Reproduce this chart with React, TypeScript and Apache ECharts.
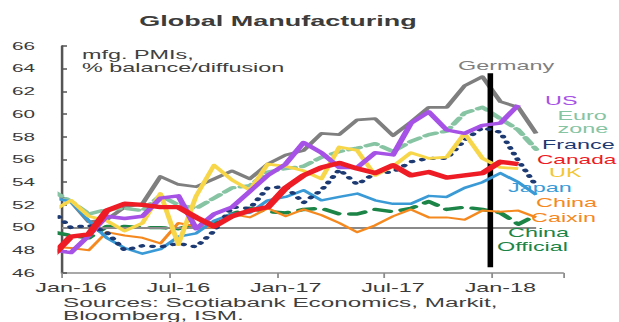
import React, { useEffect, useRef } from "react";
import * as echarts from "echarts";

// Category (month) labels of the x axis
const months = [
  "Jan-16", "Feb-16", "Mar-16", "Apr-16", "May-16", "Jun-16", "Jul-16", "Aug-16", "Sep-16", "Oct-16", "Nov-16", "Dec-16",
  "Jan-17", "Feb-17", "Mar-17", "Apr-17", "May-17", "Jun-17", "Jul-17", "Aug-17", "Sep-17", "Oct-17", "Nov-17", "Dec-17",
  "Jan-18", "Feb-18", "Mar-18", "Apr-18",
];

// All series start at Dec-15 (clipped at the left edge of the plot)
const germany = [53.0, 52.3, 50.5, 50.7, 51.8, 52.1, 54.5, 53.8, 53.6, 54.3, 55.0, 54.3, 55.6, 56.4, 56.8, 58.3, 58.2, 59.5, 59.6, 58.1, 59.3, 60.6, 60.6, 62.5, 63.3, 61.1, 60.6, 58.3];
const euroZone = [53.2, 52.3, 51.2, 51.6, 51.7, 51.5, 52.8, 52.0, 51.7, 52.6, 53.5, 53.7, 54.9, 55.2, 55.4, 56.2, 56.7, 57.0, 57.4, 56.7, 57.6, 58.2, 58.5, 60.1, 60.6, 59.6, 58.6, 56.9];
const chinaOfficial = [49.6, 49.3, 49.1, 50.1, 50.1, 50.0, 50.0, 49.9, 50.3, 50.4, 51.2, 51.7, 51.4, 51.3, 51.6, 51.7, 51.2, 51.2, 51.6, 51.4, 51.7, 52.3, 51.6, 51.8, 51.6, 51.3, 50.3, 51.1];
const chinaCaixin = [48.3, 48.2, 48.0, 49.6, 49.3, 49.1, 48.6, 50.4, 50.1, 50.0, 51.2, 50.9, 51.7, 51.0, 51.6, 51.1, 50.4, 49.6, 50.2, 51.0, 51.6, 50.9, 50.9, 50.7, 51.5, 51.4, 51.5, 50.9];
const japan = [52.6, 52.3, 50.6, 49.1, 48.2, 47.7, 48.1, 49.2, 49.5, 50.6, 51.2, 51.3, 52.4, 52.7, 53.3, 52.4, 52.7, 53.0, 52.4, 52.1, 52.1, 52.8, 52.7, 53.5, 54.0, 54.8, 54.0, 52.9];
const france = [51.4, 50.0, 50.2, 49.6, 48.0, 48.4, 48.3, 48.6, 48.3, 49.7, 51.8, 51.7, 53.5, 53.6, 52.2, 53.3, 55.1, 53.8, 54.8, 54.9, 55.8, 56.1, 56.1, 57.7, 58.8, 58.4, 55.9, 53.7];
const uk = [51.5, 52.4, 51.0, 50.6, 49.7, 50.4, 53.0, 48.5, 52.8, 55.5, 54.2, 53.3, 55.6, 55.4, 55.0, 54.3, 57.1, 56.8, 54.6, 55.4, 56.6, 56.1, 56.2, 58.3, 56.1, 55.3, 55.2];
const us = [48.0, 47.8, 49.3, 51.0, 50.8, 51.0, 52.6, 52.8, 49.9, 51.2, 51.8, 53.2, 54.6, 55.6, 57.5, 56.6, 55.3, 55.3, 56.6, 56.4, 59.2, 60.2, 58.6, 58.3, 59.0, 59.2, 60.8];
const canada = [47.6, 49.2, 49.4, 51.5, 52.1, 52.0, 51.8, 51.8, 50.9, 50.1, 51.0, 51.5, 51.8, 53.5, 54.6, 55.3, 55.7, 55.2, 54.8, 55.5, 54.6, 54.9, 54.4, 54.6, 54.8, 55.8, 55.6];

const yMin = 46;
const yMax = 66;
const yStep = 2;
const refLine = 50;

const W = 344;
const H = 322;
const S = 619 / W; // horizontal stretch of the original picture
const FONT = '"Liberation Sans", Arial, Helvetica, sans-serif';

function lineSeries(name: string, vals: number[], color: string, width: number, type: any, z: number, extra: any = {}) {
  return {
    type: "line",
    name,
    xAxisIndex: 1,
    data: vals.map((v, i) => [i - 0.5, v]),
    showSymbol: false,
    symbol: "none",
    silent: true,
    clip: true,
    z,
    lineStyle: { color, width, type, cap: type === "solid" ? "butt" : "round", join: "round" },
    ...extra,
  };
}

function label(text: string, xr: number, y: number, color: string, size = 13, extra: any = {}) {
  return {
    type: "text",
    x: xr / S,
    y,
    z: 100,
    silent: true,
    style: {
      text,
      fill: color,
      fontSize: size,
      fontFamily: FONT,
      lineHeight: 12.5,
      align: "left",
      verticalAlign: "middle",
      textAlign: "left",
      textVerticalAlign: "middle",
      ...extra,
    },
  };
}

export default function App() {
  const ref = useRef<HTMLDivElement>(null);

  useEffect(() => {
    if (!ref.current) return;
    const chart = echarts.init(ref.current, undefined, { renderer: "svg" });
    const option: any = {
      animation: false,
      backgroundColor: "#ffffff",
      textStyle: { fontFamily: FONT },
      grid: { left: 62 / S, right: W - 563 / S, top: 46, bottom: H - 273, containLabel: false },
      xAxis: [
        {
          type: "category",
          data: months,
          boundaryGap: true,
          axisLine: { show: true, lineStyle: { color: "#8c8c8c", width: 1.5 } },
          axisTick: { show: true, interval: 5, length: 5, inside: false, lineStyle: { color: "#8c8c8c", width: 1 } },
          axisLabel: { interval: 5, margin: 8, fontSize: 13, color: "#3a3a3a", fontFamily: FONT },
          splitLine: { show: false },
        },
        { type: "value", min: 0, max: months.length, show: false },
      ],
      yAxis: {
        type: "value",
        min: yMin,
        max: yMax,
        interval: yStep,
        axisLine: { show: true, lineStyle: { color: "#555555", width: 1.4 } },
        axisTick: { show: true, inside: true, length: 2.8, lineStyle: { color: "#555555", width: 1.5 } },
        axisLabel: { margin: 15, fontSize: 11.5, color: "#3a3a3a", fontFamily: FONT },
        splitLine: { show: false },
      },
      series: [
        lineSeries("Germany", germany, "#7f7f7f", 2.8, "solid", 2, {
          markLine: {
            silent: true,
            symbol: ["none", "none"],
            label: { show: false },
            lineStyle: { color: "#8a8a8a", width: 2, type: "solid" },
            data: [[{ coord: [0, refLine] }, { coord: [26.5, refLine] }]],
          },
        }),
        lineSeries("Euro zone", euroZone, "#86c4a3", 3.4, [6.5, 4], 3),
        lineSeries("China Official", chinaOfficial, "#1b8446", 3.4, [8.5, 6.5], 4),
        lineSeries("China Caixin", chinaCaixin, "#f5891f", 2, "solid", 5),
        lineSeries("Japan", japan, "#3a9ad6", 2.4, "solid", 6),
        lineSeries("France", france, "#1d3a72", 3.3, [0.5, 5.5], 7),
        lineSeries("UK", uk, "#f8d64a", 2.8, "solid", 8),
        lineSeries("US", us, "#a652e6", 3.4, "solid", 9),
        lineSeries("Canada", canada, "#ee1c25", 4.4, "solid", 10, {
          markLine: {
            silent: true,
            symbol: ["none", "none"],
            label: { show: false },
            lineStyle: { color: "#000000", width: 3.1, type: "solid" },
            data: [[{ coord: [23.9, 63.6] }, { coord: [23.9, 46.5] }]],
          },
        }),
      ],
      graphic: [
        label("Global Manufacturing", 278, 21, "#3c3c3c", 15, { fontWeight: "bold", align: "center", textAlign: "center", lineHeight: 16 }),
        label("mfg. PMIs,\n% balance/diffusion", 82, 61.25, "#404040", 13),
        label("Germany", 458, 66, "#7f7f7f"),
        label("US", 545, 101, "#a652e6"),
        label("Euro\nzone", 557.5, 122.25, "#86c4a3"),
        label("France", 542, 145, "#1d3a72"),
        label("Canada", 537, 159.5, "#ee1c25", 12.6),
        label("UK", 549, 172.5, "#f2c736"),
        label("Japan", 508, 188, "#3a9ad6"),
        label("China", 536, 203, "#f5891f"),
        label("Caixin", 531, 218, "#f5891f"),
        label("China", 508, 233, "#1b8446"),
        label("Official", 497, 247, "#1b8446"),
        label("Sources: Scotiabank Economics, Markit,\nBloomberg, ISM.", 63, 308.75, "#404040", 13.5, { lineHeight: 13.5 }),
      ],
    };
    chart.setOption(option);
    return () => chart.dispose();
  }, []);

  return (
    <div
      style={{
        position: "fixed",
        left: 0,
        top: 0,
        width: 619,
        height: 322,
        overflow: "hidden",
        background: "#ffffff",
      }}
    >
      <div
        ref={ref}
        style={{ width: W, height: H, transform: `scaleX(${S})`, transformOrigin: "0 0" }}
      />
    </div>
  );
}
